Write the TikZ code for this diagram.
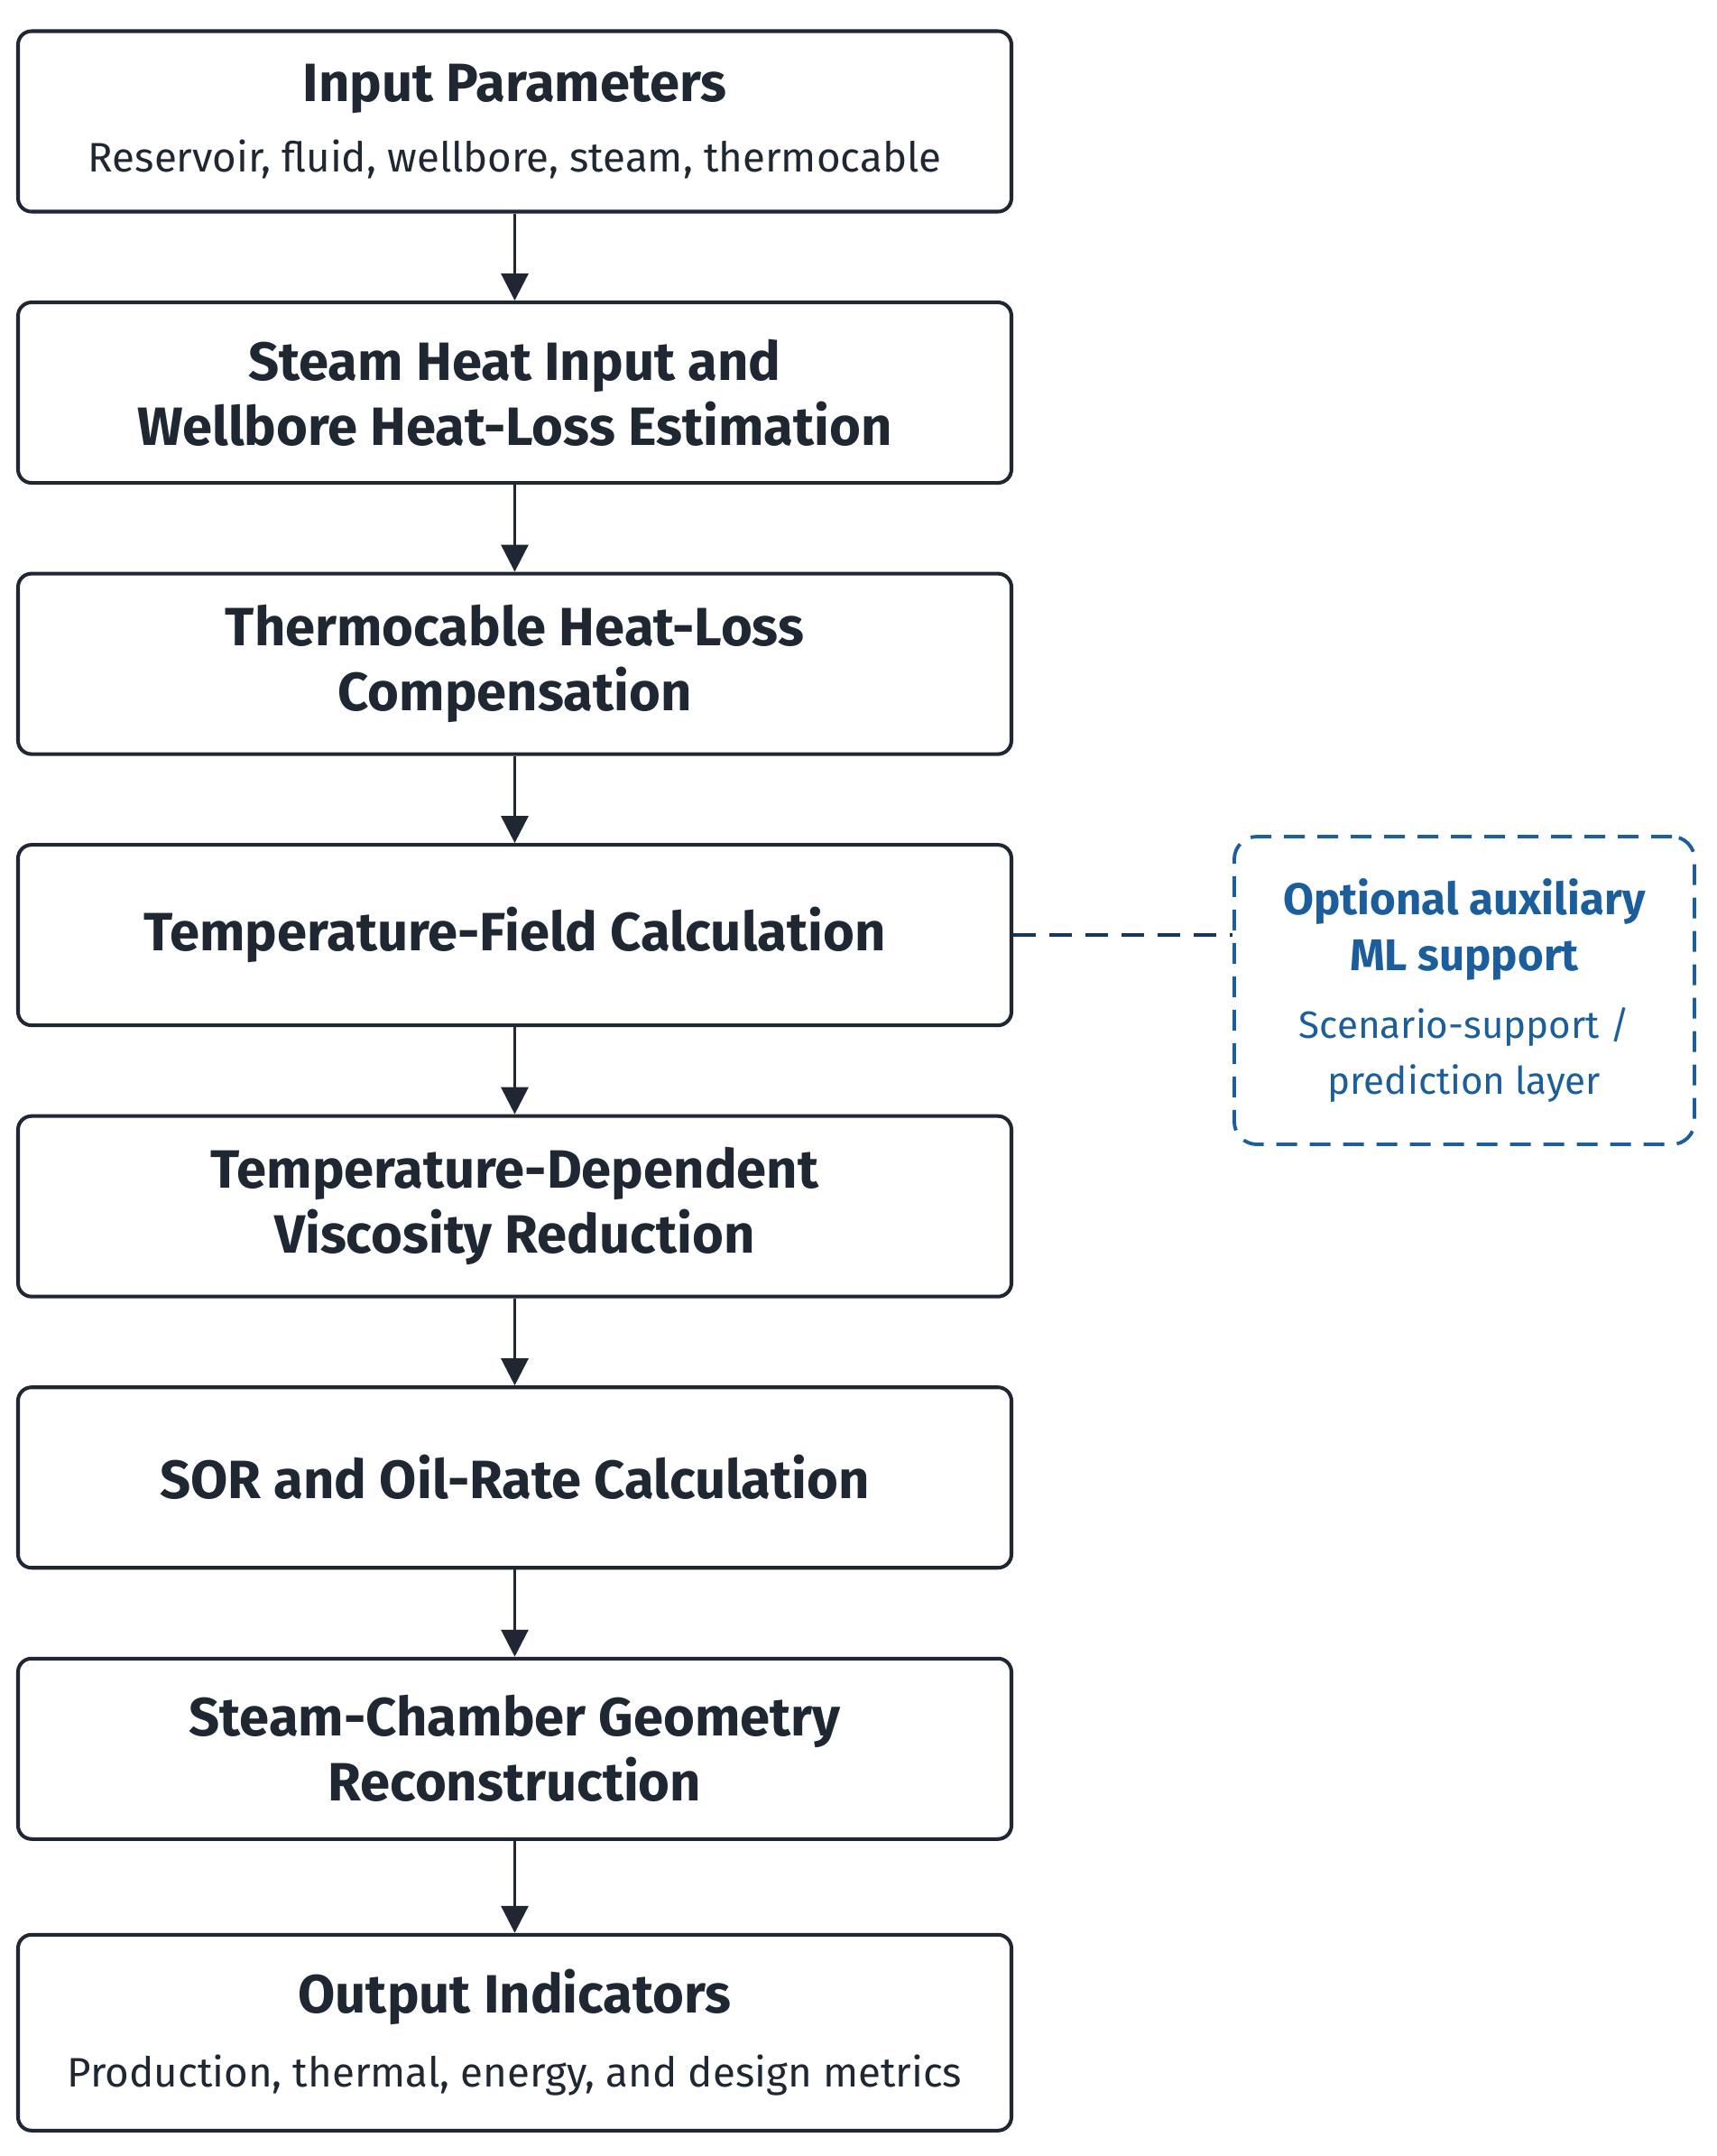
\documentclass[tikz,border=0pt]{standalone}
\usepackage{fontspec}
\setmainfont{Fira Sans}
\usepackage{tikz}
\usetikzlibrary{positioning,arrows.meta}
\definecolor{ink}{HTML}{1E2732}
\definecolor{mlblue}{HTML}{1B5E9B}
\definecolor{linknavy}{HTML}{17375C}
\newcommand{\notefont}{\fontsize{13}{16}\selectfont\mdseries}
\newcommand{\mlnote}{\fontsize{12}{16.5}\selectfont\mdseries}

\begin{document}
\begin{tikzpicture}[node distance=0.965cm,
	stage/.style={draw=ink, line width=1.15pt, rounded corners=0.15cm, minimum width=11.01cm, minimum height=2.0cm,
	  align=center, text=ink, font=\fontsize{17}{20.5}\selectfont\bfseries},
	flow/.style={draw=ink, line width=0.9pt, -{Triangle[length=0.3cm,width=0.3cm]}},
	mlbox/.style={draw=mlblue, line width=1.1pt, dash pattern=on 0.23cm off 0.14cm, rounded corners=0.25cm,
	  minimum width=5.1cm, minimum height=3.41cm, align=center, text=mlblue, font=\fontsize{14}{17.8}\selectfont\bfseries},
	link/.style={draw=linknavy, line width=1.25pt, dash pattern=on 0.25cm off 0.15cm},]

    \useasboundingbox (0,0) rectangle (19.03,-23.89);

    \node[stage] (input) at (5.705,-1.345) {Input Parameters\\[0.06cm]\notefont Reservoir, fluid, wellbore, steam, thermocable};
    \node[stage, below=of input] (heat) {Steam Heat Input and\\Wellbore Heat-Loss Estimation};
    \node[stage, below=of heat] (comp) {Thermocable Heat-Loss\\Compensation};
    \node[stage, below=of comp] (temp) {Temperature-Field Calculation};
    \node[stage, below=of temp] (visc) {Temperature-Dependent\\Viscosity Reduction};
    \node[stage, below=of visc] (sor) {SOR and Oil-Rate Calculation};
    \node[stage, below=of sor] (geom) {Steam-Chamber Geometry\\Reconstruction};
    \node[stage, below=1.02cm of geom, minimum height=2.17cm] (output) {Output Indicators\\[0.1cm]\notefont Production, thermal, energy, and design metrics};

    \node[mlbox] (ml) at (16.23,-10.975) {Optional auxiliary\\ML support\\[0.12cm]\mlnote Scenario-support /\\\mlnote prediction layer};

    \foreach \a/\b in {input/heat, heat/comp, comp/temp, temp/visc, visc/sor, sor/geom, geom/output}
	\draw[flow] (\a) -- (\b);
    \draw[link] (temp.east) -- (temp.east -| ml.west);
\end{tikzpicture}
\end{document}
